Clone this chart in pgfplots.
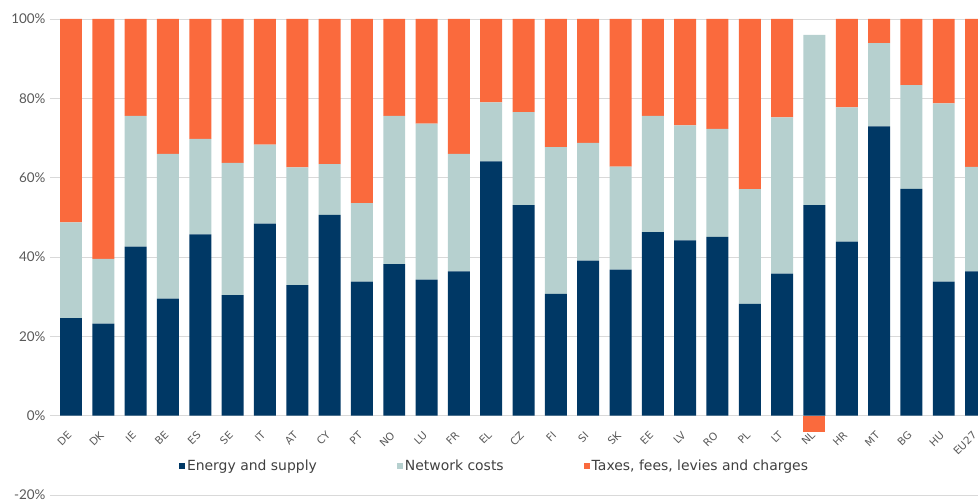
\documentclass[border=0pt]{standalone}
\usepackage{fontspec}
\setmainfont{Lato}
\newfontfamily\labelfont{DejaVu Sans}
\usepackage{pgfplots}
\pgfplotsset{compat=1.18}
\usepackage{pgfplotstable}

\definecolor{energy}{RGB}{0,56,101}
\definecolor{network}{RGB}{182,208,207}
\definecolor{taxes}{RGB}{250,106,61}
\definecolor{gridgray}{RGB}{217,217,217}
\definecolor{labelgray}{RGB}{89,89,89}
\definecolor{legendgray}{RGB}{64,64,64}

% Components of the household electricity price, share of the total (%)
\pgfplotstableread{
idx country energy network taxes
0  DE   24.6 24.1 51.3
1  DK   23.2 16.3 60.5
2  IE   42.6 33.0 24.4
3  BE   29.5 36.5 34.0
4  ES   45.7 24.1 30.2
5  SE   30.4 33.3 36.3
6  IT   48.4 19.9 31.7
7  AT   32.9 29.7 37.4
8  CY   50.6 12.8 36.6
9  PT   33.8 19.8 46.4
10 NO   38.2 37.4 24.4
11 LU   34.3 39.3 26.4
12 FR   36.4 29.6 34.0
13 EL   64.1 14.9 21.0
14 CZ   53.1 23.4 23.5
15 FI   30.7 37.0 32.3
16 SI   39.1 29.7 31.2
17 SK   36.8 26.0 37.2
18 EE   46.3 29.3 24.4
19 LV   44.2 29.0 26.8
20 RO   45.1 27.2 27.7
21 PL   28.2 28.9 42.9
22 LT   35.8 39.4 24.8
23 NL   53.1 42.9 0.0
24 HR   43.9 33.8 22.3
25 MT   72.9 21.0 6.1
26 BG   57.2 26.1 16.7
27 HU   33.8 44.9 21.3
28 EU27 36.4 26.3 37.3
}\pricedata

% NL: taxes, fees, levies and charges are negative
\pgfplotstableread{
idx taxes
23  -4.2
}\negtaxes

\pgfplotsset{
  sharebase/.style={
    scale only axis,
    width=928bp, height=476bp,
    xmin=-0.65, xmax=28.06,
    ymin=-20, ymax=100,
    bar width=0.68,
  },
  legsq/.style={
    legend image code/.code={\fill[##1] (0bp,-3bp) rectangle (6bp,3bp);}
  },
}

\begin{document}
\begin{tikzpicture}
% negative component, drawn first so the country name stays on top
\begin{axis}[sharebase, ybar, hide axis]
\addplot[fill=taxes, draw=none] table[x=idx, y=taxes] {\negtaxes};
\end{axis}
\begin{axis}[
  sharebase,
  ybar stacked,
  axis line style={draw=none},
  tick style={draw=none},
  ymajorgrids,
  grid style={gridgray, line width=0.8pt},
  ytick={-20,0,20,40,60,80,100},
  yticklabel={\pgfmathprintnumber{\tick}\%},
  /pgf/number format/assume math mode=true,
  yticklabel style={font=\fontsize{13.5}{15}\selectfont, text=labelgray, xshift=-1bp},
  xtick={0,...,28},
  xticklabels from table={\pricedata}{country},
  % country names sit under the zero line, not under the lower edge
  xticklabel style={yshift=64bp, xshift=1bp, rotate=45, anchor=east,
    font=\labelfont\fontsize{10.5}{12}\selectfont, text=labelgray},
  legend columns=3,
  legend style={at={(0.479,0.061)}, anchor=center, draw=none, fill=none,
    font=\labelfont\fontsize{14}{16}\selectfont, text=legendgray,
    /tikz/every even column/.append style={column sep=78bp}},
]
\addplot[fill=energy, draw=none, legsq] table[x=idx, y=energy] {\pricedata};
\addlegendentry{Energy and supply}
\addplot[fill=network, draw=none, legsq] table[x=idx, y=network] {\pricedata};
\addlegendentry{Network costs}
\addplot[fill=taxes, draw=none, legsq] table[x=idx, y=taxes] {\pricedata};
\addlegendentry{Taxes, fees, levies and charges}
\end{axis}
\pgfresetboundingbox
\useasboundingbox (-50bp,-6bp) rectangle (928bp,495bp);
\end{tikzpicture}
\end{document}
